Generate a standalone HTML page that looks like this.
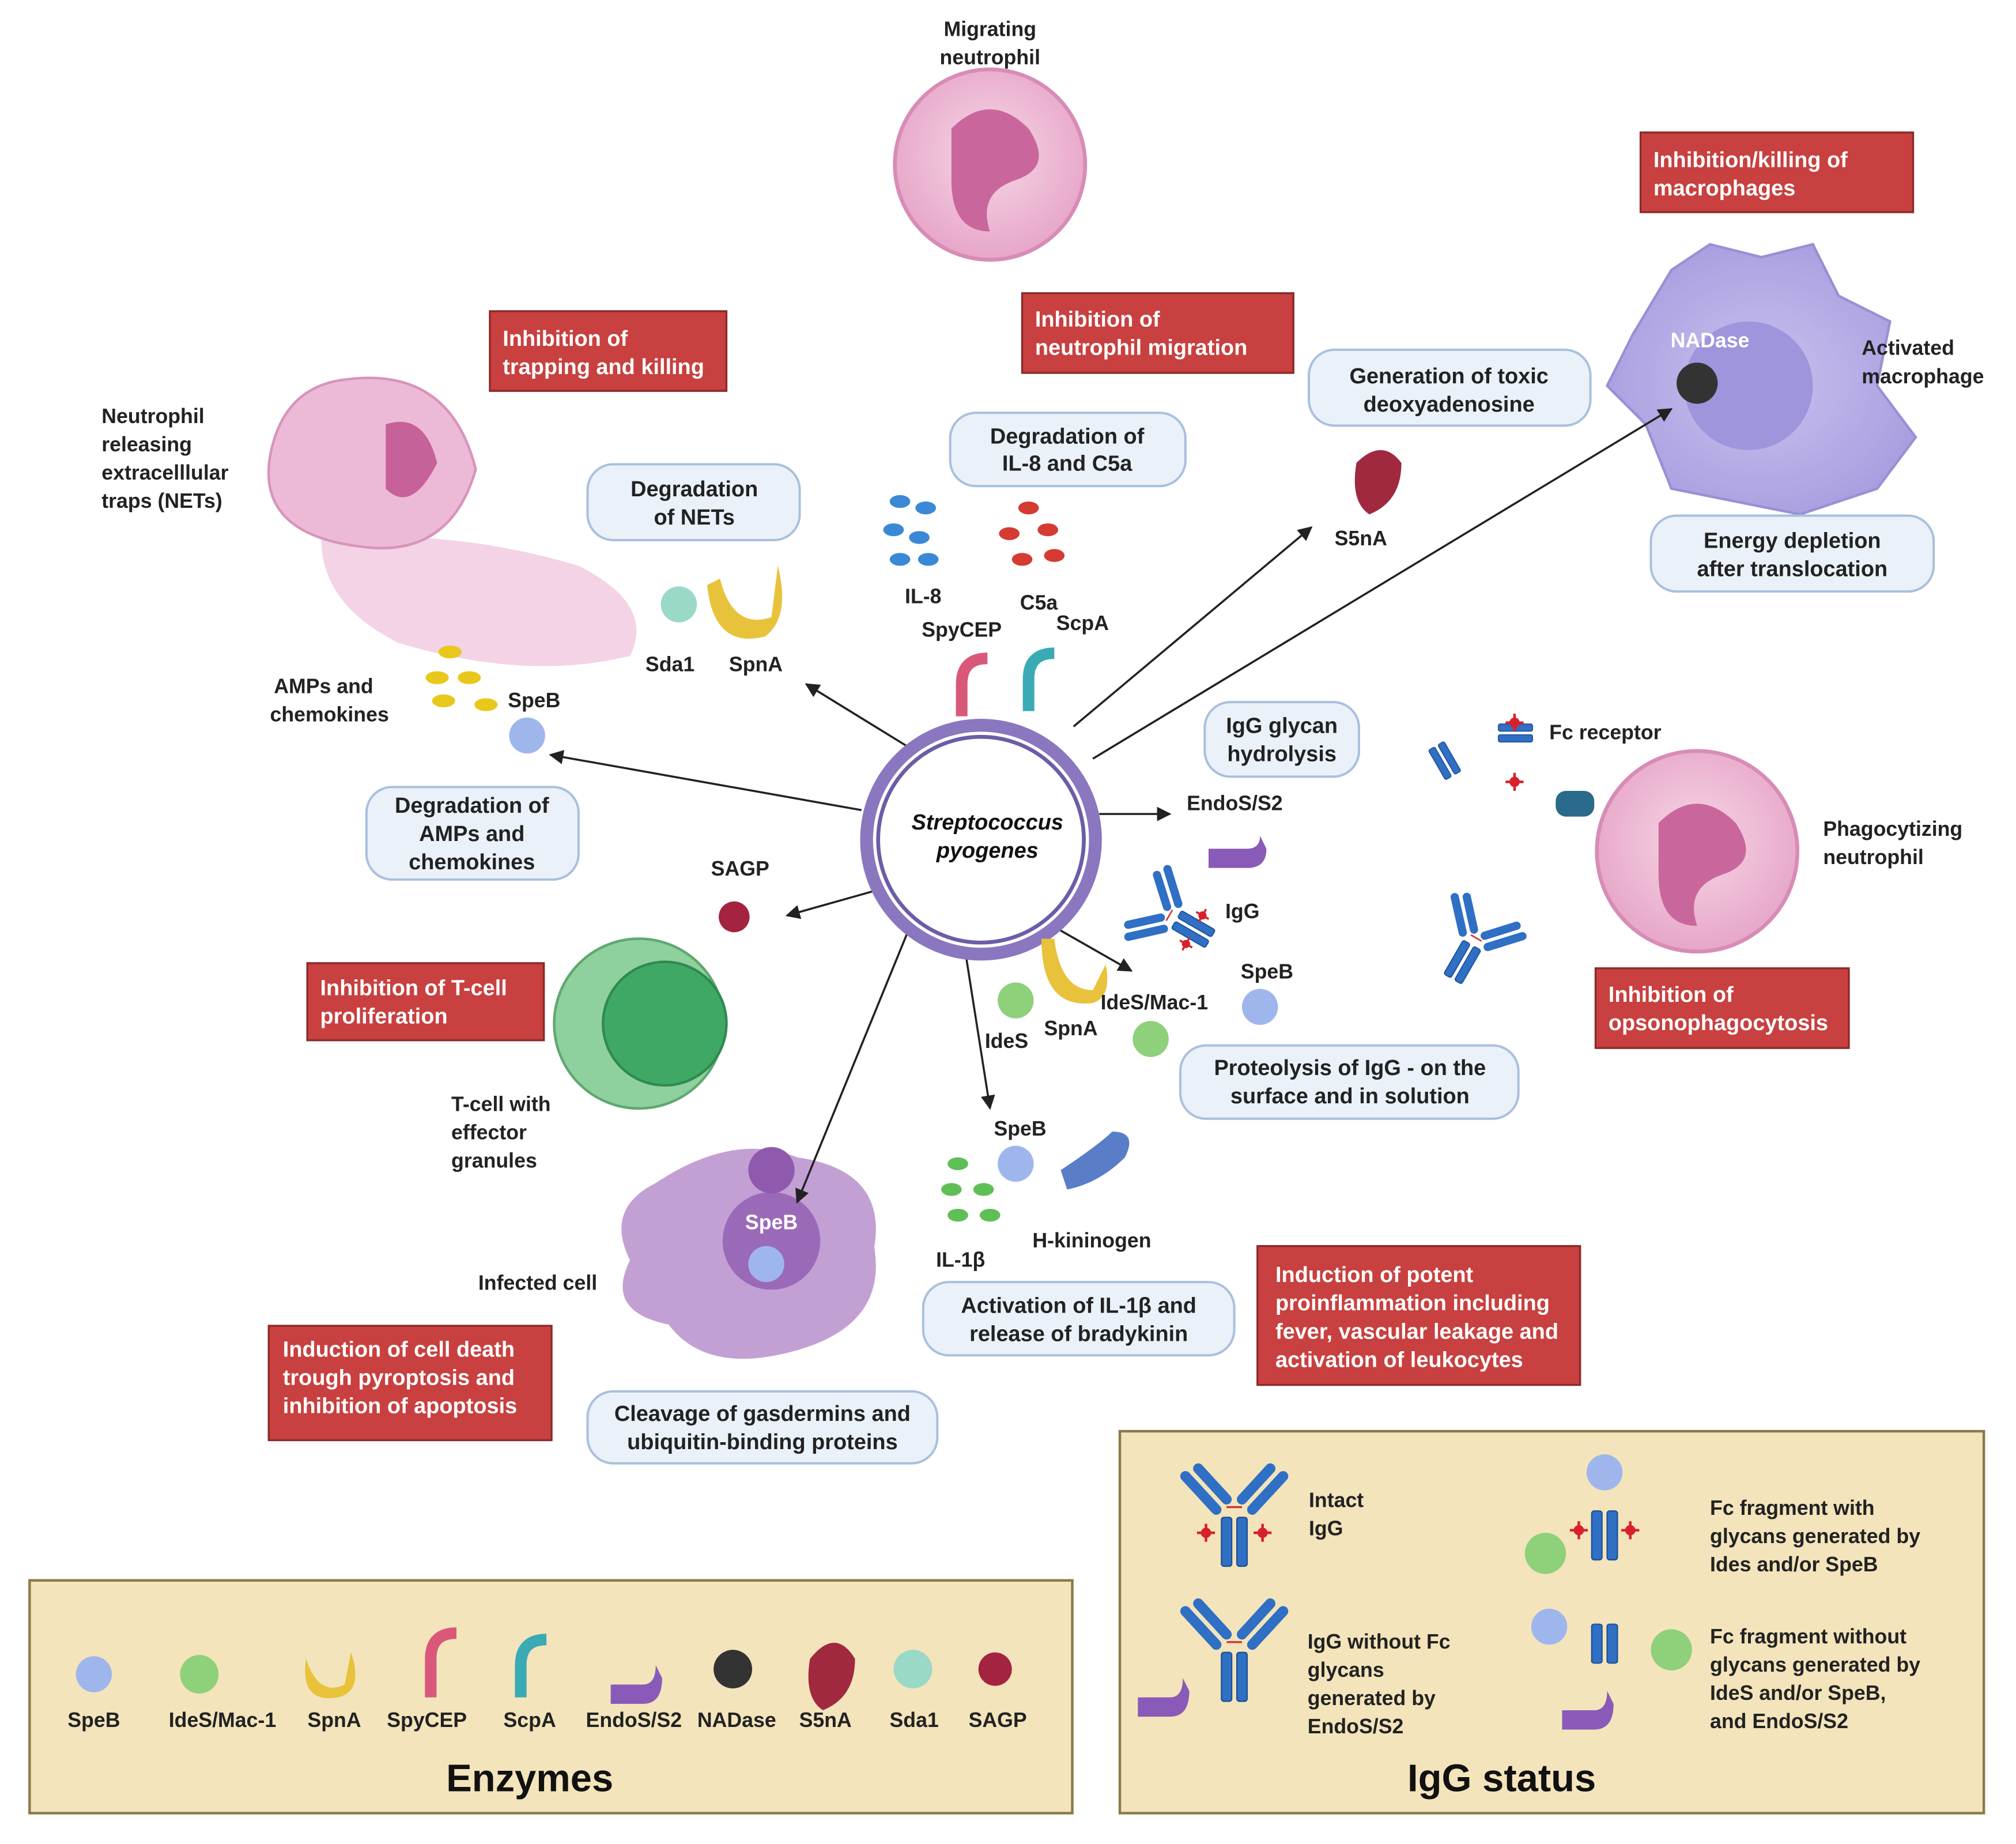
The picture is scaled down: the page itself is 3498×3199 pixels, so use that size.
<!DOCTYPE html>
<html><head><meta charset="utf-8"><style>html,body{margin:0;padding:0;background:#fff}svg{display:block}</style></head>
<body>
<svg width="3498" height="3199" viewBox="0 0 1568 1434" xmlns="http://www.w3.org/2000/svg" font-family="Liberation Sans, sans-serif" font-weight="bold">
<defs>
<marker id="ar" viewBox="0 0 10 10" refX="9" refY="5" markerWidth="7" markerHeight="7" orient="auto"><path d="M0,0L10,5L0,10z" fill="#222"/></marker>
<radialGradient id="pk" cx="50%" cy="45%" r="55%"><stop offset="0" stop-color="#f6d6e6"/><stop offset="1" stop-color="#e7a6c8"/></radialGradient>
<radialGradient id="mac" cx="50%" cy="50%" r="55%"><stop offset="0" stop-color="#c9c2ee"/><stop offset="1" stop-color="#a89ee0"/></radialGradient>
<g id="stem" fill="#2f6fc4" stroke="#1d4f95" stroke-width="1"><rect x="-10" y="0" width="8" height="38" rx="2"/><rect x="2" y="0" width="8" height="38" rx="2"/></g>
<g id="ab">
<g stroke="#2f6fc4" stroke-width="8" stroke-linecap="round"><line x1="-38" y1="-32" x2="-14" y2="-6"/><line x1="-28" y1="-38" x2="-6" y2="-14"/><line x1="38" y1="-32" x2="14" y2="-6"/><line x1="28" y1="-38" x2="6" y2="-14"/></g>
<use href="#stem"/>
<path d="M-6,-8h12" stroke="#c33" stroke-width="1.5"/>
</g>
<g id="gl" fill="#d8202a"><circle r="4"/><path d="M-7,0h14M0,-7v14" stroke="#d8202a" stroke-width="2"/></g>
</defs>
<rect width="1568" height="1434" fill="#fff"/>

<!-- legend boxes -->
<rect x="23" y="1229" width="811" height="181" fill="#f3e4bb" stroke="#8b7a4a" stroke-width="2"/>
<rect x="871" y="1113" width="672" height="297" fill="#f3e4bb" stroke="#8b7a4a" stroke-width="2"/>
<text x="412" y="1393" font-size="30" text-anchor="middle" fill="#111">Enzymes</text>
<text x="1168" y="1393" font-size="30" text-anchor="middle" fill="#111">IgG status</text>

<!-- cells -->
<circle cx="770" cy="128" r="74" fill="url(#pk)" stroke="#d88cb5" stroke-width="3"/>
<path d="M740,100q30,-30 60,0q20,30 -10,40q-30,10 -20,40q-30,0 -30,-40z" fill="#c9679c"/>
<path d="M250,420q100,-10 200,20q60,30 40,70q-80,20 -180,-10q-60,-30 -60,-80z" fill="#f0c8de" opacity="0.8"/>
<path d="M270,295q80,-10 100,70q-20,70 -90,60q-80,-10 -70,-70q10,-55 60,-60z" fill="#ecbad6" stroke="#d894bb" stroke-width="2"/>
<path d="M300,330q30,-10 40,30q-20,40 -40,20z" fill="#c7619a"/>
<path d="M1300,210l30,-20 40,10 40,-10 20,40 40,20 -10,50 30,40 -30,40 -60,20 -50,-10 -50,-10 -20,-50 -30,-30 20,-40z" fill="url(#mac)" stroke="#9a8fd4" stroke-width="2"/>
<circle cx="1360" cy="300" r="50" fill="#9e95dc"/>
<circle cx="1320" cy="298" r="16" fill="#333"/>
<text x="1330" y="270" font-size="16" fill="#fff" text-anchor="middle">NADase</text>
<circle cx="1320" cy="662" r="78" fill="url(#pk)" stroke="#d88cb5" stroke-width="3"/>
<path d="M1290,640q30,-30 60,0q20,30 -10,40q-30,10 -20,40q-30,0 -30,-40z" fill="#c9679c"/>
<circle cx="497" cy="796" r="66" fill="#8fd19e" stroke="#5fa870" stroke-width="2"/>
<circle cx="517" cy="796" r="48" fill="#3fa865" stroke="#2f8a50" stroke-width="2"/>
<path d="M510,920q60,-40 110,-20q70,10 60,70q10,60 -60,80q-70,20 -100,-20q-50,-10 -30,-50q-20,-40 20,-60z" fill="#b98fcc" opacity="0.85"/>
<circle cx="600" cy="965" r="38" fill="#9a6ab8"/>
<circle cx="600" cy="910" r="18" fill="#8f5aae"/>
<text x="600" y="956" font-size="16" fill="#fff" text-anchor="middle">SpeB</text>
<circle cx="596" cy="983" r="14" fill="#9fb6ec"/>

<!-- arrows -->
<g stroke="#222" stroke-width="1.6" fill="none" marker-end="url(#ar)">
<line x1="705" y1="580" x2="627" y2="532"/>
<line x1="670" y1="630" x2="428" y2="587"/>
<line x1="690" y1="690" x2="612" y2="712"/>
<line x1="710" y1="715" x2="620" y2="935"/>
<line x1="750" y1="735" x2="770" y2="862"/>
<line x1="815" y1="718" x2="880" y2="755"/>
<line x1="855" y1="633" x2="910" y2="633"/>
<line x1="835" y1="565" x2="1020" y2="410"/>
<line x1="850" y1="590" x2="1300" y2="318"/>
</g>

<!-- central bacterium -->
<circle cx="763" cy="653" r="94" fill="#8a77bf"/>
<circle cx="763" cy="653" r="84" fill="#fff"/>
<circle cx="763" cy="653" r="80" fill="none" stroke="#6d5ca8" stroke-width="3"/>
<text x="768" y="645" font-size="17" font-style="italic" text-anchor="middle" fill="#111">Streptococcus</text>
<text x="768" y="667" font-size="17" font-style="italic" text-anchor="middle" fill="#111">pyogenes</text>
<path d="M748,557v-25q0,-20 20,-20" stroke="#d9587a" stroke-width="9" fill="none"/>
<path d="M800,553v-25q0,-20 20,-20" stroke="#3aaab5" stroke-width="9" fill="none"/>

<!-- small enzyme shapes -->
<g fill="#3b88d6"><ellipse cx="700" cy="390" rx="8" ry="5"/><ellipse cx="720" cy="395" rx="8" ry="5"/><ellipse cx="695" cy="412" rx="8" ry="5"/><ellipse cx="715" cy="418" rx="8" ry="5"/><ellipse cx="700" cy="435" rx="8" ry="5"/><ellipse cx="722" cy="435" rx="8" ry="5"/></g>
<g fill="#d43b33"><ellipse cx="800" cy="395" rx="8" ry="5"/><ellipse cx="785" cy="415" rx="8" ry="5"/><ellipse cx="815" cy="412" rx="8" ry="5"/><ellipse cx="795" cy="435" rx="8" ry="5"/><ellipse cx="820" cy="432" rx="8" ry="5"/></g>
<g fill="#5fbf55"><ellipse cx="745" cy="905" rx="8" ry="5"/><ellipse cx="740" cy="925" rx="8" ry="5"/><ellipse cx="765" cy="925" rx="8" ry="5"/><ellipse cx="745" cy="945" rx="8" ry="5"/><ellipse cx="770" cy="945" rx="8" ry="5"/></g>
<path d="M1055,360q20,-20 35,0q0,30 -25,40q-15,-10 -10,-40z" fill="#a0283f"/>
<circle cx="528" cy="470" r="14" fill="#9ad8c8"/>
<path d="M560,450q10,40 40,30l5,-40q10,40 -10,55q-40,10 -45,-40z" fill="#e8c23a"/>
<circle cx="410" cy="572" r="14" fill="#9fb6ec"/>
<g fill="#e8c81c"><ellipse cx="350" cy="507" rx="9" ry="5"/><ellipse cx="340" cy="527" rx="9" ry="5"/><ellipse cx="365" cy="527" rx="9" ry="5"/><ellipse cx="345" cy="545" rx="9" ry="5"/><ellipse cx="378" cy="548" rx="9" ry="5"/></g>
<circle cx="571" cy="713" r="12" fill="#a32340"/>
<path d="M940,660h30q10,0 10,-10l5,10q0,15 -15,15h-30z" fill="#8a5ab8"/>
<circle cx="790" cy="778" r="14" fill="#8fd07a"/>
<path d="M820,730q5,40 30,40l10,-20q5,25 -10,30q-40,5 -40,-50z" fill="#e8c23a"/>
<circle cx="895" cy="808" r="14" fill="#8fd07a"/>
<circle cx="980" cy="783" r="14" fill="#9fb6ec"/>
<circle cx="790" cy="905" r="14" fill="#9fb6ec"/>
<path d="M825,910q30,-20 40,-30q20,0 10,20q-20,20 -45,25z" fill="#5a7dc8"/>
<!-- scene IgG -->
<g transform="translate(915,715) rotate(-60) scale(0.8)"><use href="#ab"/><use href="#gl" x="-16" y="20"/><use href="#gl" x="16" y="20"/></g>
<g transform="translate(1145,735) rotate(30) scale(0.8)"><use href="#ab"/></g>
<g transform="translate(1117,580) rotate(-30) scale(0.7)"><use href="#stem"/></g>
<g transform="translate(1178,570) rotate(90) scale(0.7) translate(0,-20)"><use href="#stem"/></g>
<use href="#gl" x="1178" y="562"/><use href="#gl" x="1178" y="608"/>
<rect x="1210" y="615" width="30" height="20" rx="8" fill="#2a6a8a"/>

<!-- legend enzymes -->
<g fill="#222" font-size="16" text-anchor="middle">
<circle cx="73" cy="1302" r="14" fill="#9fb6ec"/><text x="73" y="1343">SpeB</text>
<circle cx="155" cy="1302" r="15" fill="#8fd07a"/><text x="173" y="1343">IdeS/Mac-1</text>
<path d="M238,1290q10,30 30,20l5,-25q10,30 -10,35q-30,5 -25,-30z" fill="#e8c23a"/><text x="260" y="1343">SpnA</text>
<path d="M335,1320v-30q0,-20 20,-20" stroke="#d9587a" stroke-width="9" fill="none"/><text x="332" y="1343">SpyCEP</text>
<path d="M405,1320v-25q0,-20 20,-20" stroke="#3aaab5" stroke-width="9" fill="none"/><text x="412" y="1343">ScpA</text>
<path d="M475,1310h25q10,0 10,-15l5,10q0,20 -15,20h-25z" fill="#8a5ab8"/><text x="493" y="1343">EndoS/S2</text>
<circle cx="570" cy="1298" r="15" fill="#333"/><text x="573" y="1343">NADase</text>
<path d="M630,1290q20,-25 35,0q0,30 -25,40q-15,-10 -10,-40z" fill="#a0283f"/><text x="642" y="1343">S5nA</text>
<circle cx="710" cy="1298" r="15" fill="#9ad8c8"/><text x="711" y="1343">Sda1</text>
<circle cx="774" cy="1298" r="13" fill="#a32340"/><text x="776" y="1343">SAGP</text>
</g>
<!-- legend IgG -->
<g transform="translate(960,1180)"><use href="#ab"/><use href="#gl" x="-22" y="12"/><use href="#gl" x="22" y="12"/></g>
<g transform="translate(960,1285)"><use href="#ab"/></g>
<g transform="translate(1248,1175)"><use href="#stem"/></g><use href="#gl" x="1228" y="1190"/><use href="#gl" x="1268" y="1190"/>
<g transform="translate(1248,1263) scale(1,0.8)"><use href="#stem"/></g>
<path d="M885,1320h25q10,0 10,-15l5,10q0,20 -15,20h-25z" fill="#8a5ab8"/>
<path d="M1215,1330h25q10,0 10,-15l5,10q0,20 -15,20h-25z" fill="#8a5ab8"/>
<circle cx="1248" cy="1145" r="14" fill="#9fb6ec"/><circle cx="1202" cy="1208" r="16" fill="#8fd07a"/>
<circle cx="1205" cy="1265" r="14" fill="#9fb6ec"/><circle cx="1300" cy="1283" r="16" fill="#8fd07a"/>
<g font-size="16" fill="#222">
<text x="1018" y="1172">Intact</text><text x="1018" y="1194">IgG</text>
<text x="1330" y="1178">Fc fragment with</text><text x="1330" y="1200">glycans generated by</text><text x="1330" y="1222">Ides and/or SpeB</text>
<text x="1017" y="1282">IgG without Fc</text><text x="1017" y="1304">glycans</text><text x="1017" y="1326">generated by</text><text x="1017" y="1348">EndoS/S2</text>
<text x="1330" y="1278">Fc fragment without</text><text x="1330" y="1300">glycans generated by</text><text x="1330" y="1322">IdeS and/or SpeB,</text><text x="1330" y="1344">and EndoS/S2</text>
</g>

<!-- red boxes -->
<g fill="#c8403f" stroke="#8a2a2a" stroke-width="1.5">
<rect x="1276" y="103" width="212" height="62"/><rect x="795" y="228" width="211" height="62"/><rect x="381" y="242" width="184" height="62"/>
<rect x="239" y="749" width="184" height="60"/><rect x="1241" y="753" width="197" height="62"/><rect x="978" y="969" width="251" height="108"/><rect x="209" y="1031" width="220" height="89"/>
</g>
<g fill="#fff" font-size="17">
<text x="1286" y="130">Inhibition/killing of</text><text x="1286" y="152">macrophages</text>
<text x="805" y="254">Inhibition of</text><text x="805" y="276">neutrophil migration</text>
<text x="391" y="269">Inhibition of</text><text x="391" y="291">trapping and killing</text>
<text x="249" y="774">Inhibition of T-cell</text><text x="249" y="796">proliferation</text>
<text x="1251" y="779">Inhibition of</text><text x="1251" y="801">opsonophagocytosis</text>
<text x="992" y="997">Induction of potent</text><text x="992" y="1019">proinflammation including</text><text x="992" y="1041">fever, vascular leakage and</text><text x="992" y="1063">activation of leukocytes</text>
<text x="220" y="1055">Induction of cell death</text><text x="220" y="1077">trough pyroptosis and</text><text x="220" y="1099">inhibition of apoptosis</text>
</g>

<!-- blue boxes -->
<g fill="#eaf1f9" stroke="#a9c0dd" stroke-width="1.8">
<rect x="1018" y="272" width="219" height="59" rx="20"/><rect x="739" y="321" width="183" height="57" rx="20"/><rect x="457" y="361" width="165" height="59" rx="20"/>
<rect x="1284" y="401" width="220" height="59" rx="20"/><rect x="937" y="546" width="120" height="58" rx="20"/><rect x="285" y="612" width="165" height="72" rx="20"/>
<rect x="918" y="813" width="263" height="57" rx="20"/><rect x="718" y="997" width="242" height="57" rx="20"/><rect x="457" y="1082" width="272" height="56" rx="20"/>
</g>
<g fill="#222" font-size="17" text-anchor="middle">
<text x="1127" y="298">Generation of toxic</text><text x="1127" y="320">deoxyadenosine</text>
<text x="830" y="345">Degradation of</text><text x="830" y="366">IL-8 and C5a</text>
<text x="540" y="386">Degradation</text><text x="540" y="408">of NETs</text>
<text x="1394" y="426">Energy depletion</text><text x="1394" y="448">after translocation</text>
<text x="997" y="570">IgG glycan</text><text x="997" y="592">hydrolysis</text>
<text x="367" y="632">Degradation of</text><text x="367" y="654">AMPs and</text><text x="367" y="676">chemokines</text>
<text x="1050" y="836">Proteolysis of IgG - on the</text><text x="1050" y="858">surface and in solution</text>
<text x="839" y="1021">Activation of IL-1β and</text><text x="839" y="1043">release of bradykinin</text>
<text x="593" y="1105">Cleavage of gasdermins and</text><text x="593" y="1127">ubiquitin-binding proteins</text>
</g>

<!-- labels -->
<g fill="#222" font-size="16">
<text x="770" y="28" text-anchor="middle">Migrating</text><text x="770" y="50" text-anchor="middle">neutrophil</text>
<text x="1448" y="276">Activated</text><text x="1448" y="298">macrophage</text>
<text x="79" y="329">Neutrophil</text><text x="79" y="351">releasing</text><text x="79" y="373">extracelllular</text><text x="79" y="395">traps (NETs)</text>
<text x="1038" y="424">S5nA</text>
<text x="718" y="469" text-anchor="middle">IL-8</text><text x="808" y="474" text-anchor="middle">C5a</text>
<text x="748" y="495" text-anchor="middle">SpyCEP</text><text x="842" y="490" text-anchor="middle">ScpA</text>
<text x="502" y="522">Sda1</text><text x="567" y="522">SpnA</text>
<text x="213" y="539">AMPs and</text><text x="210" y="561">chemokines</text>
<text x="395" y="550">SpeB</text>
<text x="1205" y="575">Fc receptor</text>
<text x="923" y="630">EndoS/S2</text>
<text x="1418" y="650">Phagocytizing</text><text x="1418" y="672">neutrophil</text>
<text x="553" y="681">SAGP</text>
<text x="953" y="714">IgG</text>
<text x="965" y="761">SpeB</text>
<text x="856" y="785">IdeS/Mac-1</text>
<text x="766" y="815">IdeS</text><text x="812" y="805">SpnA</text>
<text x="351" y="864">T-cell with</text><text x="351" y="886">effector</text><text x="351" y="908">granules</text>
<text x="773" y="883">SpeB</text>
<text x="803" y="970">H-kininogen</text>
<text x="728" y="985">IL-1β</text>
<text x="372" y="1003">Infected cell</text>
</g>
</svg>
</body></html>
